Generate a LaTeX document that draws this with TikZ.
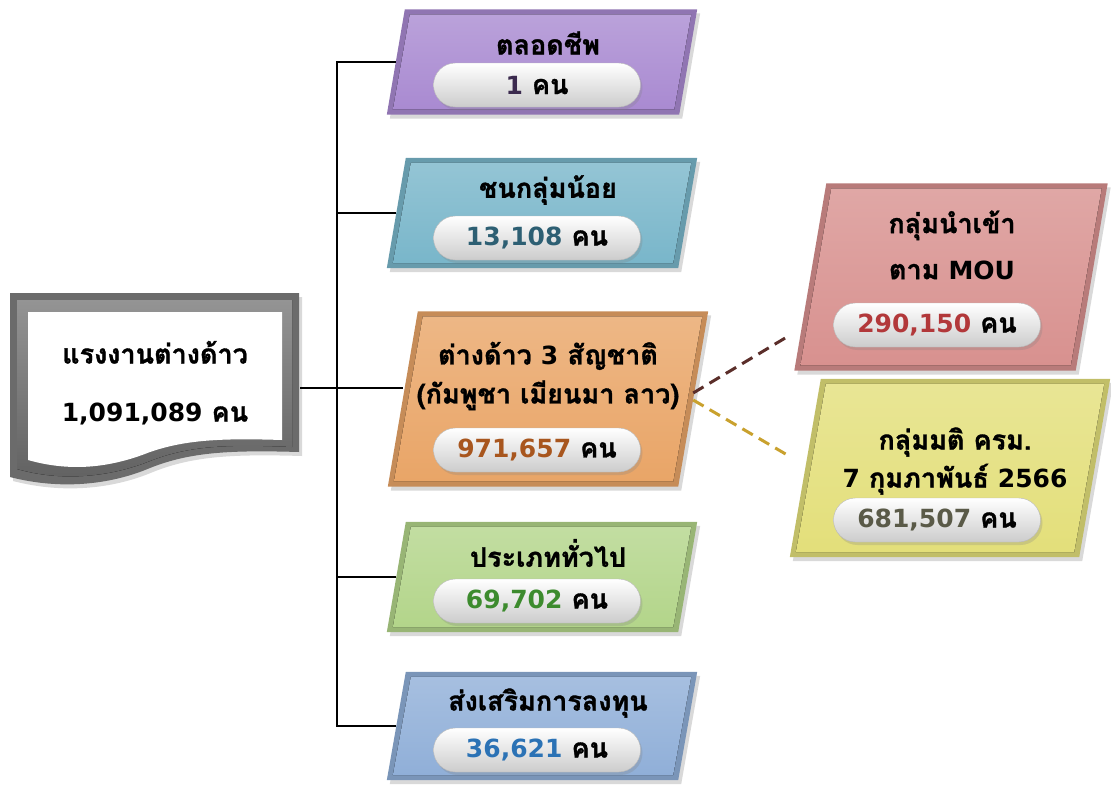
\documentclass[tikz,border=0pt]{standalone}
\usepackage{fontspec}
\newfontfamily\thaifont[Script=Thai, BoldFeatures={FakeBold=1.2}]{Loma}
\newfontfamily\numfont{DejaVu Sans}
\usetikzlibrary{shadows}

\definecolor{lifec}{HTML}{A98AD1}
\definecolor{minorc}{HTML}{79B6CA}
\definecolor{threec}{HTML}{E9A567}
\definecolor{generalc}{HTML}{B3D58A}
\definecolor{investc}{HTML}{90AFD8}
\definecolor{mouc}{HTML}{D8918F}
\definecolor{cabc}{HTML}{E3DF7A}

\definecolor{lifen}{HTML}{3B2A4E}
\definecolor{minorn}{HTML}{2D5F73}
\definecolor{threen}{HTML}{A8561E}
\definecolor{generaln}{HTML}{3D8B2E}
\definecolor{investn}{HTML}{2B72B5}
\definecolor{moun}{HTML}{B2383A}
\definecolor{cabn}{HTML}{5A5A48}
\definecolor{moulink}{HTML}{5B2E2A}
\definecolor{cablink}{HTML}{C9A12E}

% digits set in a wider face
\newcommand\figs[1]{{\numfont\fontsize{25}{30}\selectfont #1}}

% slanted panel round a named slot: node, colour, slant
\newcommand\slab[3]{%
  \fill[panel=#2] ([xshift=-#3/2]#1.south west) -- ([xshift=-#3/2]#1.south east)
    -- ([xshift=#3/2]#1.north east) -- ([xshift=#3/2]#1.north west) -- cycle;
  \fill[facet=#2] ([xshift=-#3/2+6, yshift=5pt]#1.south west)
    -- ([xshift=-#3/2-5, yshift=5pt]#1.south east)
    -- ([xshift=#3/2-6, yshift=-5pt]#1.north east)
    -- ([xshift=#3/2+5, yshift=-5pt]#1.north west) -- cycle;}

\begin{document}
\begin{tikzpicture}[x=1pt, y=-1pt,
    every node/.style={font=\thaifont\bfseries\fontsize{27}{38}\selectfont},
    slot/.style={rectangle, inner sep=0pt},
    panel/.style={fill=#1!85!black,
      drop shadow={opacity=0.3, shadow xshift=3pt, shadow yshift=-4pt}},
    facet/.style={top color=#1!80!white, bottom color=#1},
    pill/.style={rectangle, rounded corners=22pt, minimum width=207pt, minimum height=44pt,
      inner sep=0pt, draw=gray!55, top color=white, bottom color=gray!40,
      drop shadow={opacity=0.25, shadow xshift=2pt, shadow yshift=-3pt}},
    title/.style={align=center, text=black},
    branch/.style={black, line width=2.5pt},
    link/.style={line width=3pt, dash pattern=on 12pt off 7pt}]
  \useasboundingbox (0,0) rectangle (1111,787);

  % total (document shape)
  \fill[black!58, drop shadow={opacity=0.3, shadow xshift=3pt, shadow yshift=-4pt}]
    (10,293) -- (299,293) -- (299,452) .. controls (230,450) and (190,452) .. (150,468)
    .. controls (110,485) and (60,490) .. (10,477) -- cycle;
  \fill[top color=black!42, bottom color=black!62]
    (17,300) -- (292,300) -- (292,447) .. controls (226,444) and (188,446) .. (150,461)
    .. controls (110,477) and (62,482) .. (17,469) -- cycle;
  \fill[white]
    (28,312) -- (282,312) -- (282,440) .. controls (220,438) and (185,440) .. (150,452)
    .. controls (110,468) and (70,472) .. (28,460) -- cycle;
  \node[title, minimum width=290pt, minimum height=190pt,
    font=\thaifont\bfseries\fontsize{27}{58}\selectfont] (total) at (155,383)
    {แรงงานต่างด้าว\\\figs{1,091,089} คน};

  % left column
  \node[slot, minimum width=292pt, minimum height=105pt] (life) at (542,62) {};
  \slab{life}{lifec}{18}
  \node[title] (life-t) at (548,43) {ตลอดชีพ};
  \node[pill] (life-n) at (537,85) {\textcolor{lifen}{\figs{1}} คน};

  \node[slot, minimum width=291pt, minimum height=110pt] (minor) at (542,213) {};
  \slab{minor}{minorc}{19}
  \node[title] (minor-t) at (548,190) {ชนกลุ่มน้อย};
  \node[pill] (minor-n) at (537,238) {\textcolor{minorn}{\figs{13,108}} คน};

  \node[slot, minimum width=290pt, minimum height=175pt] (three) at (548,399) {};
  \slab{three}{threec}{30}
  \node[title, font=\thaifont\bfseries\fontsize{27}{39}\selectfont] (three-t) at (548,376)
    {ต่างด้าว \figs{3} สัญชาติ\\(กัมพูชา เมียนมา ลาว)};
  \node[pill] (three-n) at (537,450) {\textcolor{threen}{\figs{971,657}} คน};

  \node[slot, minimum width=291pt, minimum height=110pt] (general) at (542,577) {};
  \slab{general}{generalc}{19}
  \node[title] (general-t) at (548,553) {ประเภททั่วไป};
  \node[pill] (general-n) at (537,601) {\textcolor{generaln}{\figs{69,702}} คน};

  \node[slot, minimum width=291pt, minimum height=108pt] (invest) at (542,726) {};
  \slab{invest}{investc}{19}
  \node[title] (invest-t) at (548,703) {ส่งเสริมการลงทุน};
  \node[pill] (invest-n) at (537,750) {\textcolor{investn}{\figs{36,621}} คน};

  % right column
  \node[slot, minimum width=281pt, minimum height=187pt] (mou) at (951,277) {};
  \slab{mou}{mouc}{32}
  \node[title, font=\thaifont\bfseries\fontsize{27}{46}\selectfont] (mou-t) at (952,245)
    {กลุ่มนำเข้า\\ตาม \figs{MOU}};
  \node[pill] (mou-n) at (937,325) {\textcolor{moun}{\figs{290,150}} คน};

  \node[slot, minimum width=289pt, minimum height=178pt] (cab) at (950,468) {};
  \slab{cab}{cabc}{31}
  \node[title, font=\thaifont\bfseries\fontsize{27}{38}\selectfont] (cab-t) at (955,461)
    {กลุ่มมติ ครม.\\\figs{7} กุมภาพันธ์ \figs{2566}};
  \node[pill] (cab-n) at (937,520) {\textcolor{cabn}{\figs{681,507}} คน};

  % connectors
  \coordinate (trunk) at (337,0);
  \draw[branch] (life.west) -| (invest.west -| trunk) -- (invest.west);
  \draw[branch] (minor.west) -- (minor.west -| trunk);
  \draw[branch] (general.west) -- (general.west -| trunk);
  \draw[branch] ([yshift=-5pt]total.east) -- ([yshift=-5pt]total.east -| three.west);

  \draw[link, draw=moulink] ([yshift=6pt]three.east) -- ([xshift=-23pt]mou.203);
  \draw[link, draw=cablink] ([yshift=-1pt]three.east) -- ([xshift=-18pt, yshift=13pt]cab.west);
\end{tikzpicture}
\end{document}
